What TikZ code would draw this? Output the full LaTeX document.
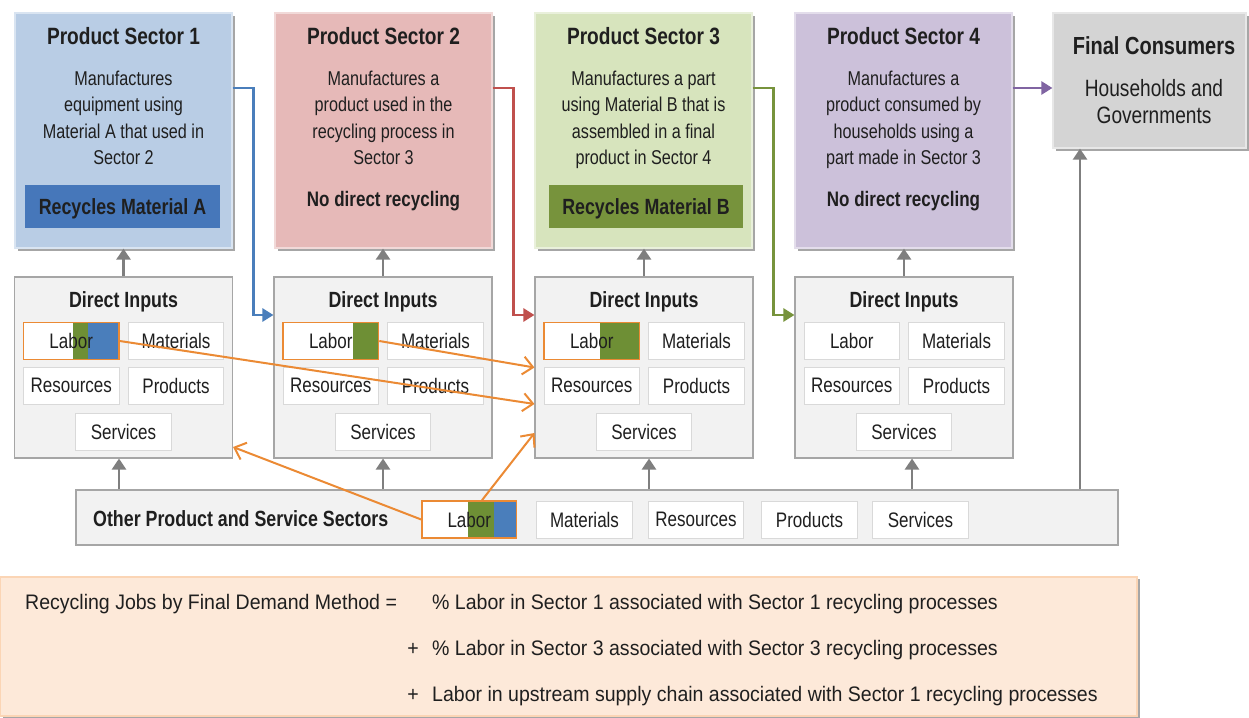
\documentclass[tikz,border=0pt]{standalone}
\usepackage{fontspec}
\setmainfont{Liberation Sans}
\newfontfamily\nar[FakeStretch=0.81]{Liberation Sans}
\newfontfamily\eqf[FakeStretch=0.93]{Liberation Sans}
\usetikzlibrary{arrows.meta,shadows,calc}
\definecolor{s1c}{HTML}{B9CDE5}
\definecolor{s1b}{HTML}{4677BA}
\definecolor{s2c}{HTML}{E6B9B8}
\definecolor{s3c}{HTML}{D7E4BD}
\definecolor{s3b}{HTML}{77933C}
\definecolor{s4c}{HTML}{CCC1DA}
\definecolor{fcc}{HTML}{D4D4D4}
\definecolor{dic}{HTML}{F2F2F2}
\definecolor{dibd}{HTML}{A6A6A6}
\definecolor{cellb}{HTML}{D9D9D9}
\definecolor{orng}{HTML}{EB8A34}
\definecolor{cblue}{HTML}{4A7EBB}
\definecolor{cred}{HTML}{C0504D}
\definecolor{cgreen}{HTML}{77933C}
\definecolor{cpurp}{HTML}{8064A2}
\definecolor{garc}{HTML}{7F7F7F}
\definecolor{eqc}{HTML}{FDE9D9}
\definecolor{eqb}{HTML}{FBD5B5}
\definecolor{lblue}{HTML}{4A7EBB}
\definecolor{lgreen}{HTML}{6E8F35}
\definecolor{txt}{HTML}{1F1F1F}
\tikzset{
  sec/.style={draw=#1!55!white, line width=1.2pt, fill=#1, inner sep=0pt,
    minimum width=217pt, minimum height=235pt,
    drop shadow={shadow xshift=2.5pt, shadow yshift=-3pt, opacity=0.35, fill=black}},
  ttl/.style={inner sep=0pt, anchor=base, text=txt, font=\nar\bfseries\fontsize{23.6}{27}\selectfont},
  bod/.style={inner sep=0pt, anchor=base, text=txt, font=\nar\fontsize{20}{24}\selectfont},
  fcbod/.style={inner sep=0pt, anchor=base, text=txt, font=\nar\fontsize{23.6}{27}\selectfont},
  nodir/.style={inner sep=0pt, anchor=base, text=txt, font=\nar\bfseries\fontsize{21}{25}\selectfont},
  barbox/.style={fill=#1, inner sep=0pt, minimum width=195pt, minimum height=43pt},
  bartxt/.style={inner sep=0pt, anchor=base, text=txt, font=\nar\bfseries\fontsize{22}{26}\selectfont},
  dibx/.style={draw=dibd, line width=1.1pt, fill=dic, inner sep=0pt, minimum width=218pt, minimum height=181pt},
  ditl/.style={inner sep=0pt, anchor=base, text=txt, font=\nar\bfseries\fontsize{22}{26}\selectfont},
  cell/.style={draw=cellb, line width=1pt, fill=white, inner sep=0pt, minimum width=95.5pt,
    minimum height=37pt, text=txt, font=\nar\fontsize{21}{24}\selectfont},
  labor/.style 2 args={draw=orng, line width=1.6pt, path picture={
    \fill[lgreen] ([xshift=-#1pt-#2pt]path picture bounding box.north east) rectangle ([xshift=-#2pt]path picture bounding box.south east);
    \fill[lblue] ([xshift=-#2pt]path picture bounding box.north east) rectangle (path picture bounding box.south east);}},
  garrow/.style={draw=garc, line width=2.4pt, -{Triangle[length=11pt,width=14pt]}},
  conn/.style={draw=#1, line width=2.5pt, -{Triangle[length=11pt,width=13pt]}},
  oarr/.style={draw=orng, line width=2pt, -{Straight Barb[length=10pt,width=18pt]}},
  eqt/.style={inner sep=0pt, text=txt, font=\eqf\fontsize{21}{24}\selectfont},
}
\newcommand\diblock[3]{%
  \node[dibx] (#1) at ({#2+109},367.5) {};
  \node[ditl] (#1t) at ({#2+109},307.5) {Direct Inputs};
  \node[cell,#3] (#1la) at ({#2+56.75},341) {Labor};
  \node[cell] (#1ma) at ({#2+161.5},341) {Materials};
  \node[cell] (#1re) at ({#2+56.75},385.5) {Resources};
  \node[cell] (#1pr) at ({#2+161.5},385.5) {Products};
  \node[cell] (#1se) at ({#2+109},431.5) {Services};
}
\begin{document}
\begin{tikzpicture}[x=1pt,y=-1pt]
\useasboundingbox (0,0) rectangle (1249,717);
% sectors
\node[sec=s1c] (s1) at (123.5,130.5) {};
\node[sec=s2c] (s2) at (383.5,130.5) {};
\node[sec=s3c] (s3) at (643.5,130.5) {};
\node[sec=s4c] (s4) at (903.5,130.5) {};
\node[sec=fcc, minimum width=193pt, minimum height=135pt] (fc) at (1149.5,80.5) {};
% sector 1
\node[ttl] (s1t) at (123.5,45) {Product Sector 1};
\foreach \t [count=\i from 0] in {Manufactures,equipment using,Material A that used in,Sector 2}
  \node[bod] (s1l\i) at (123.5,{85+26.5*\i}) {\t};
\node[barbox=s1b] (b1) at (122.5,206.5) {};
\node[bartxt] (b1t) at (122.5,214) {Recycles Material A};
% sector 2
\node[ttl] (s2t) at (383.5,45) {Product Sector 2};
\foreach \t [count=\i from 0] in {Manufactures a,product used in the,recycling process in,Sector 3}
  \node[bod] (s2l\i) at (383.5,{85+26.5*\i}) {\t};
\node[nodir] (s2n) at (383.5,206) {No direct recycling};
% sector 3
\node[ttl] (s3t) at (643.5,45) {Product Sector 3};
\foreach \t [count=\i from 0] in {Manufactures a part,using Material B that is,assembled in a final,product in Sector 4}
  \node[bod] (s3l\i) at (643.5,{85+26.5*\i}) {\t};
\node[barbox=s3b, minimum width=194pt] (b3) at (646,206.5) {};
\node[bartxt] (b3t) at (646,214) {Recycles Material B};
% sector 4
\node[ttl] (s4t) at (903.5,45) {Product Sector 4};
\foreach \t [count=\i from 0] in {Manufactures a,product consumed by,households using a,part made in Sector 3}
  \node[bod] (s4l\i) at (903.5,{85+26.5*\i}) {\t};
\node[nodir] (s4n) at (903.5,206) {No direct recycling};
% final consumers
\node[ttl, font=\nar\bfseries\fontsize{24.7}{28}\selectfont] (fct) at (1154,55) {Final Consumers};
\node[fcbod] (fc1) at (1154,96.5) {Households and};
\node[fcbod] (fc2) at (1154,123) {Governments};
% direct inputs
\diblock{d1}{14.5}{labor={15.5}{31}}
\diblock{d2}{274}{labor={25.8}{0}}
\diblock{d3}{535}{labor={40}{0}}
\diblock{d4}{795}{}
% bottom bar
\node[dibx, minimum width=1042pt, minimum height=55pt] (ob) at (597,517.5) {};
\node[ditl, anchor=base west] (obt) at (93,526) {Other Product and Service Sectors};
\node[cell, labor={26}{22.5}, minimum width=94.5pt] (obla) at (469.25,519.5) {Labor};
\node[cell] (obma) at (584.5,519.5) {Materials};
\node[cell] (obre) at (696,519.5) {Resources};
\node[cell] (obpr) at (809.5,519.5) {Products};
\node[cell] (obse) at (920.5,519.5) {Services};
% gray arrows DI -> sector
\draw[garrow] (d1.north) -- (d1.north |- s1.south);
\draw[garrow] (d2.north) -- (d2.north |- s2.south);
\draw[garrow] (d3.north) -- (d3.north |- s3.south);
\draw[garrow] (d4.north) -- (d4.north |- s4.south);
% gray arrows bar -> DI
\draw[garrow] ([xshift=-4.5pt]d1.south |- ob.north) -- ([xshift=-4.5pt]d1.south);
\draw[garrow] (d2.south |- ob.north) -- (d2.south);
\draw[garrow] ([xshift=5pt]d3.south |- ob.north) -- ([xshift=5pt]d3.south);
\draw[garrow] ([xshift=8pt]d4.south |- ob.north) -- ([xshift=8pt]d4.south);
\draw[garrow] ([xshift=-69.5pt]fc.south |- ob.north) -- ([xshift=-69.5pt]fc.south);
% coloured connectors
\draw[conn=cblue] ([yshift=42.5pt]s1.east) -- ++(21,0) |- ([yshift=52.5pt]d2.west);
\draw[conn=cred] ([yshift=42.5pt]s2.east) -- ++(21,0) |- ([yshift=52.5pt]d3.west);
\draw[conn=cgreen] ([yshift=42.5pt]s3.east) -- ++(21,0) |- ([yshift=52.5pt]d4.west);
\draw[conn=cpurp] ([yshift=42.5pt]s4.east) -- ([yshift=42.5pt]s4.east -| fc.west);
% orange arrows
\draw[oarr] (d1la.east) -- ([yshift=-36.5pt]d3.west);
\draw[oarr] (d2la.east) -- (d3.west);
\draw[oarr] ([xshift=12.75pt]obla.north) -- ([yshift=-65.5pt]d3.west);
\draw[oarr] (obla.west) -- ([yshift=-79.5pt]d1.east);
% equation box
\node[draw=eqb, line width=1.2pt, fill=eqc, inner sep=0pt, minimum width=1137pt, minimum height=139pt,
  drop shadow={shadow xshift=3pt, shadow yshift=-2pt, opacity=0.35, fill=black}] (eq) at (568.5,646.5) {};
\node[eqt, anchor=base west] (e0) at (25,609) {Recycling Jobs by Final Demand Method =};
\node[eqt, anchor=base west] (e1) at (432,609) {\% Labor in Sector 1 associated with Sector 1 recycling processes};
\node[eqt, anchor=base] (p2) at (413,655) {+};
\node[eqt, anchor=base west] (e2) at (432,655) {\% Labor in Sector 3 associated with Sector 3 recycling processes};
\node[eqt, anchor=base] (p3) at (413,701) {+};
\node[eqt, anchor=base west] (e3) at (432,701) {Labor in upstream supply chain associated with Sector 1 recycling processes};
\end{tikzpicture}
\end{document}
